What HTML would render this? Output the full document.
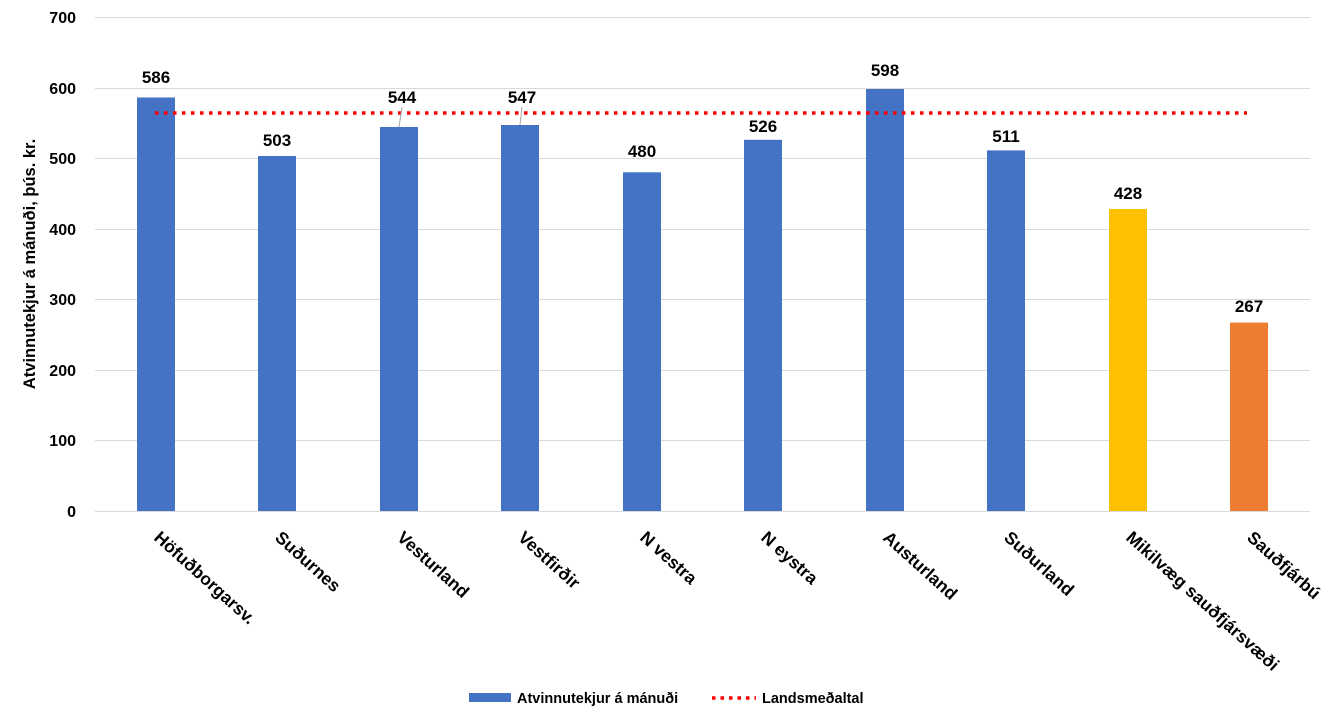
<!DOCTYPE html>
<html><head><meta charset="utf-8"><style>body{margin:0;background:#fff}svg{display:block;font-family:"Liberation Sans",sans-serif;font-weight:bold}</style></head><body>
<svg width="1330" height="719" xmlns="http://www.w3.org/2000/svg">
<g stroke="#d9d9d9" stroke-width="1">
<line x1="95" x2="1310" y1="17.5" y2="17.5"/><line x1="95" x2="1310" y1="88.5" y2="88.5"/><line x1="95" x2="1310" y1="158.5" y2="158.5"/><line x1="95" x2="1310" y1="229.5" y2="229.5"/><line x1="95" x2="1310" y1="299.5" y2="299.5"/><line x1="95" x2="1310" y1="370.5" y2="370.5"/><line x1="95" x2="1310" y1="440.5" y2="440.5"/><line x1="95" x2="1310" y1="511.5" y2="511.5"/>
</g>
<g font-size="16" text-anchor="end" fill="#000">
<text x="76" y="23">700</text><text x="76" y="94">600</text><text x="76" y="164">500</text><text x="76" y="235">400</text><text x="76" y="305">300</text><text x="76" y="376">200</text><text x="76" y="446">100</text><text x="76" y="517">0</text>
</g>
<text transform="translate(35,264) rotate(-90)" font-size="16.5" text-anchor="middle">Atvinnutekjur á mánuði, þús. kr.</text>
<g>
<rect x="137" y="97.5" width="38" height="413.5" fill="#4472c4"/>
<rect x="258" y="156" width="38" height="355" fill="#4472c4"/>
<rect x="380" y="127" width="38" height="384" fill="#4472c4"/>
<rect x="501" y="125" width="38" height="386" fill="#4472c4"/>
<rect x="623" y="172.3" width="38" height="338.7" fill="#4472c4"/>
<rect x="744" y="139.8" width="38" height="371.2" fill="#4472c4"/>
<rect x="866" y="89" width="38" height="422" fill="#4472c4"/>
<rect x="987" y="150.4" width="38" height="360.6" fill="#4472c4"/>
<rect x="1109" y="209" width="38" height="302" fill="#ffc000"/>
<rect x="1230" y="322.6" width="38" height="188.4" fill="#ed7d31"/>
</g>
<line x1="155" x2="1247" y1="113" y2="113" stroke="#ff0000" stroke-width="3.5" stroke-dasharray="3.5 5.5" stroke-linecap="butt"/>
<g stroke="#a6a6a6" stroke-width="1"><line x1="399" y1="127" x2="402" y2="107"/><line x1="520" y1="125" x2="522" y2="107"/></g>
<g font-size="17" text-anchor="middle" fill="#000">
<text x="156" y="83">586</text><text x="277" y="146">503</text><text x="402" y="103">544</text><text x="522" y="103">547</text><text x="642" y="157">480</text><text x="763" y="132">526</text><text x="885" y="76">598</text><text x="1006" y="142">511</text><text x="1128" y="199">428</text><text x="1249" y="312">267</text>
</g>
<g font-size="17.5" fill="#000">
<text transform="translate(153,539) rotate(42)">Höfuðborgarsv.</text>
<text transform="translate(274,539) rotate(42)">Suðurnes</text>
<text transform="translate(396,539) rotate(42)">Vesturland</text>
<text transform="translate(517,539) rotate(42)">Vestfirðir</text>
<text transform="translate(639,539) rotate(42)">N vestra</text>
<text transform="translate(760,539) rotate(42)">N eystra</text>
<text transform="translate(882,539) rotate(42)">Austurland</text>
<text transform="translate(1003,539) rotate(42)">Suðurland</text>
<text transform="translate(1125,539) rotate(42)">Mikilvæg sauðfjársvæði</text>
<text transform="translate(1246,539) rotate(42)">Sauðfjárbú</text>
</g>
<rect x="469" y="693" width="42" height="9" fill="#4472c4"/>
<text x="517" y="703" font-size="14.5">Atvinnutekjur á mánuði</text>
<line x1="712" x2="756" y1="698" y2="698" stroke="#ff0000" stroke-width="3.5" stroke-dasharray="3.5 5"/>
<text x="762" y="703" font-size="14.5">Landsmeðaltal</text>
</svg>
</body></html>
